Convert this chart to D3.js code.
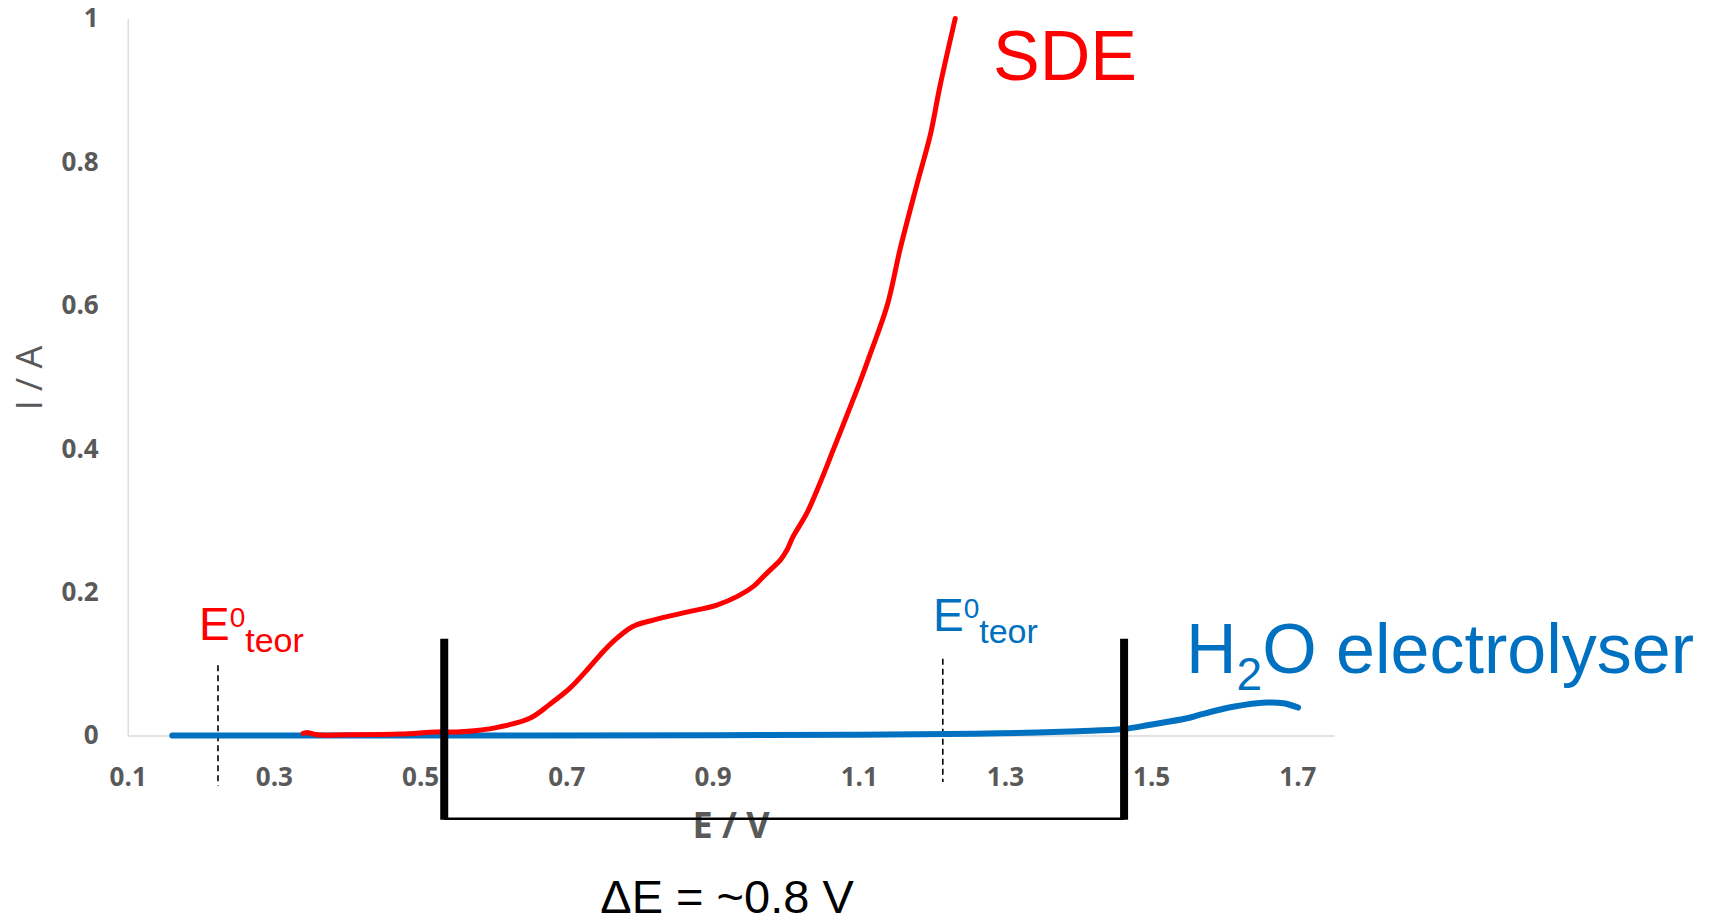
<!DOCTYPE html>
<html>
<head>
<meta charset="utf-8">
<script src="https://cdn.jsdelivr.net/npm/d3@7"></script>
<style>
  html, body { margin: 0; padding: 0; background: #fff; }
  svg { display: block; }
</style>
</head>
<body>
<svg id="chart" width="1711" height="922"></svg>
<script>
// ---- Data ----
const xTicks = [0.1, 0.3, 0.5, 0.7, 0.9, 1.1, 1.3, 1.5, 1.7];
const yTicks = [0, 0.2, 0.4, 0.6, 0.8, 1];

// SDE (red) polarisation curve: E / V, I / A
const sdeE = [0.340, 0.347, 0.359, 0.400, 0.4725, 0.523, 0.550, 0.578, 0.609, 0.650, 0.678, 0.705, 0.728, 0.746, 0.764, 0.791, 0.819, 0.860, 0.906, 0.934, 0.956, 0.969, 0.979, 0.993, 1.002, 1.010, 1.029, 1.047, 1.065, 1.084, 1.102, 1.116, 1.139, 1.157, 1.180, 1.198, 1.211, 1.232];
const sdeI = [0.003, 0.004, 0.001, 0.001, 0.002, 0.005, 0.005, 0.007, 0.012, 0.024, 0.044, 0.066, 0.091, 0.112, 0.131, 0.152, 0.161, 0.171, 0.182, 0.194, 0.208, 0.221, 0.231, 0.245, 0.259, 0.277, 0.310, 0.352, 0.398, 0.447, 0.494, 0.533, 0.600, 0.680, 0.770, 0.838, 0.905, 1.000];

// H2O electrolyser (blue) curve
const h2oE = [0.161, 0.500, 0.900, 1.100, 1.220, 1.293, 1.400, 1.462, 1.499, 1.549, 1.567, 1.612, 1.658, 1.681, 1.701];
const h2oI = [0.000, 0.000, 0.0005, 0.001, 0.002, 0.003, 0.006, 0.009, 0.015, 0.024, 0.029, 0.040, 0.046, 0.045, 0.039];

// Annotations
const e0Red = 0.2235;       // theoretical potential, SDE
const e0Blue = 1.215;       // theoretical potential, water electrolysis
const bracketE = [0.533, 1.463];
const bracketTop = 0.135;
const bracketBottom = -0.116;
const dashRed = [-0.07, 0.098];
const dashBlue = [-0.065, 0.107];

// ---- Scales ----
const svg = d3.select('#chart');
const x = d3.scaleLinear().domain([0.1, 1.75]).range([127.7, 1333.9]);
const y = d3.scaleLinear().domain([0, 1]).range([735.5, 18.5]);

const grey = '#595959';
const blue = '#0070C0';
const red = '#FF0000';

// ---- Axes ----
const yAxis = d3.axisLeft(y).tickValues(yTicks).tickSize(0).tickPadding(29)
  .tickFormat(d => (d === 0 ? '0' : d === 1 ? '1' : d.toFixed(1)));
const gy = svg.append('g').attr('transform', `translate(${x(0.1)},0)`).call(yAxis);
gy.select('.domain').attr('stroke', '#d9d9d9').attr('stroke-width', 1.3);
gy.selectAll('text').attr('font-family', 'Open Sans').attr('font-weight', 'bold')
  .attr('font-size', 26).attr('fill', grey);

const xAxis = d3.axisBottom(x).tickValues(xTicks).tickSize(0).tickPadding(32)
  .tickFormat(d => d.toFixed(1));
const gx = svg.append('g').attr('transform', `translate(0,${y(0)})`).call(xAxis);
gx.select('.domain').attr('stroke', '#d9d9d9').attr('stroke-width', 1.3);
gx.selectAll('text').attr('font-family', 'Open Sans').attr('font-weight', 'bold')
  .attr('font-size', 26).attr('fill', grey);

// Axis titles
svg.append('text')
  .attr('transform', 'translate(42,378) rotate(-90)')
  .attr('text-anchor', 'middle')
  .attr('font-family', 'Open Sans').attr('font-size', 36).attr('fill', grey)
  .text('I / A');

svg.append('text')
  .attr('x', 731).attr('y', 838)
  .attr('text-anchor', 'middle')
  .attr('font-family', 'Open Sans').attr('font-weight', 'bold').attr('font-size', 36).attr('fill', grey)
  .text('E / V');

// ---- Dashed theoretical potential lines ----
svg.append('line')
  .attr('x1', x(e0Red)).attr('x2', x(e0Red)).attr('y1', y(dashRed[1])).attr('y2', y(dashRed[0]))
  .attr('stroke', '#000').attr('stroke-width', 1.6).attr('stroke-dasharray', '6,4');
svg.append('line')
  .attr('x1', x(e0Blue)).attr('x2', x(e0Blue)).attr('y1', y(dashBlue[1])).attr('y2', y(dashBlue[0]))
  .attr('stroke', '#000').attr('stroke-width', 1.6).attr('stroke-dasharray', '6,4');

// ---- Curves ----
const line = d3.line().x(d => x(d[0])).y(d => y(d[1])).curve(d3.curveCatmullRom.alpha(0.5));

svg.append('path')
  .datum(h2oE.map((e, i) => [e, h2oI[i]]))
  .attr('d', line).attr('fill', 'none').attr('stroke', blue)
  .attr('stroke-width', 6).attr('stroke-linecap', 'round').attr('stroke-linejoin', 'round');

svg.append('path')
  .datum(sdeE.map((e, i) => [e, sdeI[i]]))
  .attr('d', line).attr('fill', 'none').attr('stroke', red)
  .attr('stroke-width', 5).attr('stroke-linecap', 'round').attr('stroke-linejoin', 'round');

// ---- Bracket for delta E ----
svg.append('line')
  .attr('x1', x(bracketE[0])).attr('x2', x(bracketE[1]))
  .attr('y1', y(bracketBottom)).attr('y2', y(bracketBottom))
  .attr('stroke', '#000').attr('stroke-width', 2.5);
bracketE.forEach(e => {
  svg.append('line')
    .attr('x1', x(e)).attr('x2', x(e))
    .attr('y1', y(bracketTop)).attr('y2', y(bracketBottom) + 1.2)
    .attr('stroke', '#000').attr('stroke-width', 8);
});

// ---- Text annotations ----
function e0Label(xPos, yBase, color) {
  const t = svg.append('text').attr('x', xPos).attr('y', yBase)
    .attr('font-family', 'Liberation Sans, Arial, sans-serif').attr('fill', color);
  t.append('tspan').attr('font-size', 46).text('E');
  t.append('tspan').attr('font-size', 28).attr('dy', -13).text('0');
  t.append('tspan').attr('font-size', 34).attr('dy', 25).text('teor');
}
e0Label(199, 640, red);
e0Label(933, 631, blue);

svg.append('text')
  .attr('x', 993).attr('y', 80)
  .attr('font-family', 'Liberation Sans, Arial, sans-serif').attr('font-size', 70).attr('fill', red)
  .text('SDE');

const h2o = svg.append('text').attr('x', 1186).attr('y', 673)
  .attr('font-family', 'Liberation Sans, Arial, sans-serif').attr('fill', blue);
h2o.append('tspan').attr('font-size', 70).text('H');
h2o.append('tspan').attr('font-size', 46).attr('dy', 17).text('2');
h2o.append('tspan').attr('font-size', 70).attr('dy', -17).text('O electrolyser');

svg.append('text')
  .attr('x', 727).attr('y', 913)
  .attr('text-anchor', 'middle')
  .attr('font-family', 'Liberation Sans, Arial, sans-serif').attr('font-size', 47).attr('fill', '#000')
  .text('ΔE = ~0.8 V');
</script>
</body>
</html>
